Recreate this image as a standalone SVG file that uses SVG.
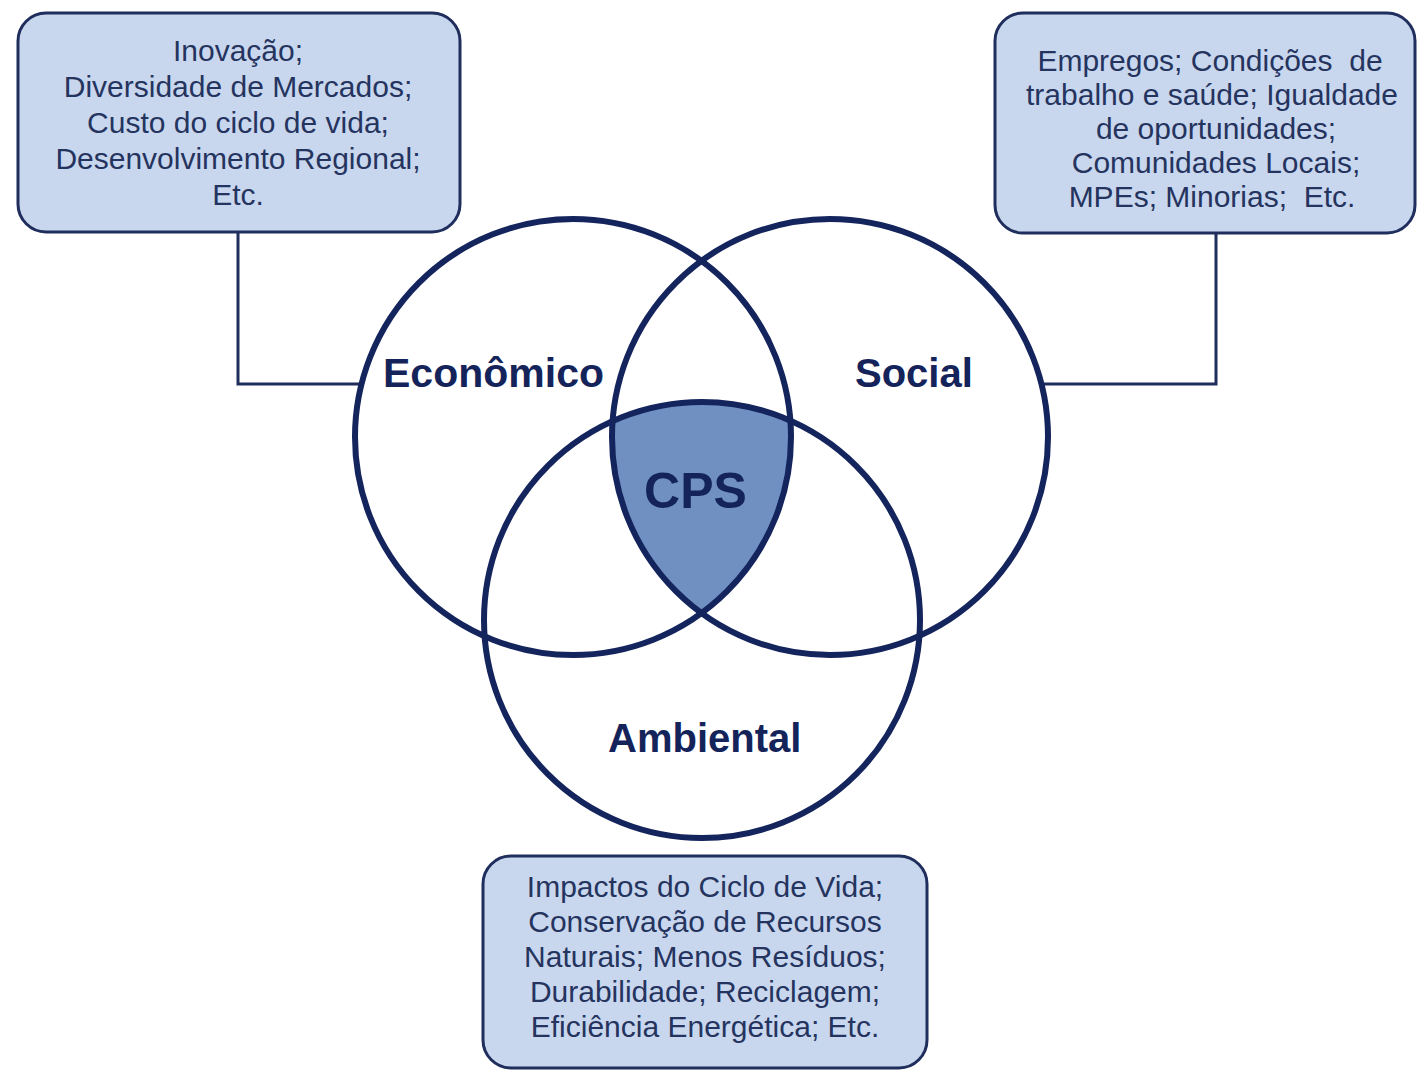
<svg xmlns="http://www.w3.org/2000/svg" width="1418" height="1071" viewBox="0 0 1418 1071">
<style>
.box{fill:#c8d7ee;stroke:#1f2e5c;stroke-width:3}
.bt{font-family:"Liberation Sans",Arial,sans-serif;font-size:30px;fill:#25345e;text-anchor:middle}
.lbl{font-family:"Liberation Sans",Arial,sans-serif;font-size:40px;font-weight:bold;fill:#14245a}
.ring{fill:none;stroke:#14245c;stroke-width:6}
.conn{fill:none;stroke:#1f2e5c;stroke-width:3}
</style>
<rect width="1418" height="1071" fill="#ffffff"/>
<g id="connectors">
<polyline class="conn" points="238,233 238,384 362,384"/>
<polyline class="conn" points="1216,233 1216,384 1041,384"/>
</g>
<g id="cps">
<path d="M612.6 421.2 A218 218 0 0 1 790.4 420.7 A218 218 0 0 1 701.5 613.1 A218 218 0 0 1 612.6 421.2 Z" fill="#7090c2"/>
<text class="lbl" x="695.5" y="508" text-anchor="middle" style="font-size:50px">CPS</text>
</g>
<g id="economico">
<circle class="ring" cx="573" cy="437" r="218"/>
<text class="lbl" x="383" y="387" style="font-size:41px">Econômico</text>
</g>
<g id="social">
<circle class="ring" cx="830" cy="437" r="218"/>
<text class="lbl" x="855" y="387">Social</text>
</g>
<g id="ambiental">
<circle class="ring" cx="702" cy="620" r="218"/>
<text class="lbl" x="608" y="752">Ambiental</text>
</g>
<g id="box-economico">
<rect class="box" x="18" y="13" width="442" height="219" rx="28"/>
<text class="bt" x="238" y="61">Inovação;</text>
<text class="bt" x="238" y="97">Diversidade de Mercados;</text>
<text class="bt" x="238" y="133">Custo do ciclo de vida;</text>
<text class="bt" x="238" y="169">Desenvolvimento Regional;</text>
<text class="bt" x="238" y="205">Etc.</text>
</g>
<g id="box-social">
<rect class="box" x="995" y="13" width="420" height="220" rx="28"/>
<text class="bt" x="1210" y="71">Empregos; Condições&#160; de</text>
<text class="bt" x="1212" y="105">trabalho e saúde; Igualdade</text>
<text class="bt" x="1216" y="139">de oportunidades;</text>
<text class="bt" x="1216" y="173">Comunidades Locais;</text>
<text class="bt" x="1212" y="207">MPEs; Minorias;&#160; Etc.</text>
</g>
<g id="box-ambiental">
<rect class="box" x="483" y="856" width="444" height="212" rx="28"/>
<text class="bt" x="705" y="897">Impactos do Ciclo de Vida;</text>
<text class="bt" x="705" y="932">Conservação de Recursos</text>
<text class="bt" x="705" y="967">Naturais; Menos Resíduos;</text>
<text class="bt" x="705" y="1002">Durabilidade; Reciclagem;</text>
<text class="bt" x="705" y="1037">Eficiência Energética; Etc.</text>
</g>
</svg>
